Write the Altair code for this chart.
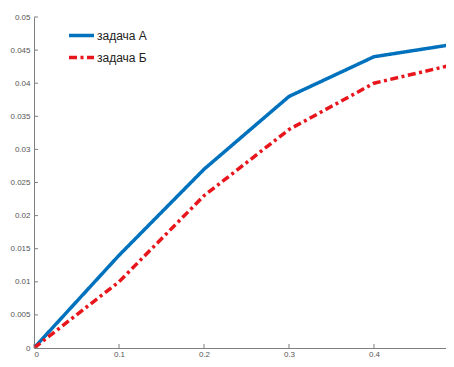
import altair as alt
import pandas as pd

x_vals = [0.0, 0.1, 0.2, 0.3, 0.4, 0.5]
task_a = [0.0, 0.0140, 0.0270, 0.0380, 0.0440, 0.0460]
task_b = [0.0, 0.0100, 0.0230, 0.0330, 0.0400, 0.0430]
series_names = ["задача А", "задача Б"]
y_ticks = [0, 0.005, 0.01, 0.015, 0.02, 0.025, 0.03, 0.035, 0.04, 0.045, 0.05]
x_ticks = [0, 0.1, 0.2, 0.3, 0.4, 0.5]

rows = []
for name, vals in zip(series_names, [task_a, task_b]):
    for xv, yv in zip(x_vals, vals):
        rows.append({"x": xv, "y": yv, "series": name})
df = pd.DataFrame(rows)

# the reference is cropped just before x = 0.5; keep 85 px per 0.1
W, H = 412, 331
xs = alt.Scale(domain=[0, 0.4847], nice=False, zero=False)
ys = alt.Scale(domain=[0, 0.05], nice=False)

axis_common = dict(
    grid=False, domainColor="#7f7f7f", domainWidth=1, ticks=False,
    labelColor="#555555", labelFontSize=8, labelFont="Liberation Sans",
    title=None, format="~g", labelOverlap=False,
)
x_axis = alt.Axis(values=x_ticks, labelPadding=2, **axis_common)
y_axis = alt.Axis(values=y_ticks, labelPadding=4, **axis_common)

leg = alt.Legend(title=None, orient="none", legendX=33, legendY=4,
                 symbolType="stroke", symbolSize=625, symbolStrokeWidth=3.5,
                 labelFontSize=12, labelFont="Liberation Sans", labelColor="#222222",
                 rowPadding=0, labelOffset=1, padding=0)

lines = alt.Chart(df).mark_line(strokeWidth=3.5, clip=True).encode(
    x=alt.X("x:Q", scale=xs, axis=x_axis),
    y=alt.Y("y:Q", scale=ys, axis=y_axis),
    color=alt.Color("series:N", scale=alt.Scale(domain=series_names, range=["#0072BD", "#E8161C"]),
                    legend=leg),
    strokeDash=alt.StrokeDash("series:N", scale=alt.Scale(domain=series_names, range=[[1, 0], [8, 3.5, 3, 3.5]]),
                              legend=leg),
)

ydf = pd.DataFrame({"v": y_ticks})
xdf = pd.DataFrame({"v": x_ticks[:-1]})
ytick_marks = alt.Chart(ydf).mark_rule(color="#7f7f7f", strokeWidth=1).encode(
    y=alt.Y("v:Q", scale=ys, axis=y_axis), x=alt.value(0), x2=alt.value(4))
xtick_marks = alt.Chart(xdf).mark_rule(color="#7f7f7f", strokeWidth=1).encode(
    x=alt.X("v:Q", scale=xs, axis=x_axis), y=alt.value(H), y2=alt.value(H - 4))

chart = alt.layer(lines, ytick_marks, xtick_marks).properties(
    width=W, height=H,
    autosize=alt.AutoSizeParams(type="none"),
    padding={"left": 26, "top": 9, "right": 0, "bottom": 11},
).configure_view(stroke=None)

chart.save("out.html", embed_options={"renderer": "svg", "actions": False})
